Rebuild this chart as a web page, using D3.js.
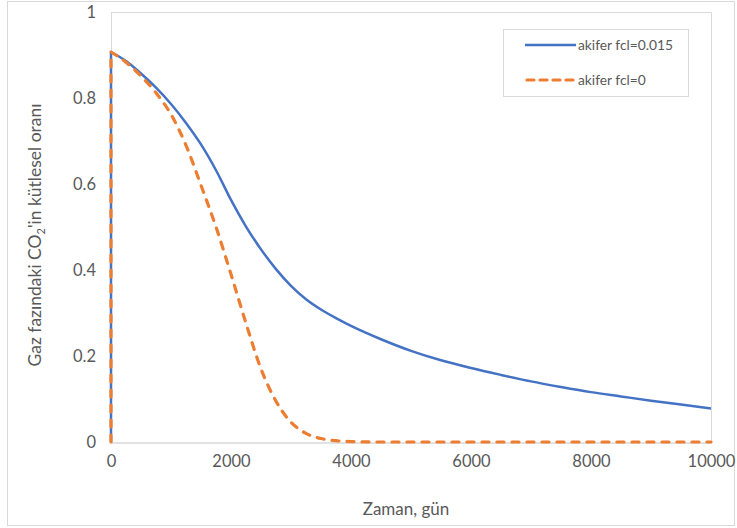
<!DOCTYPE html>
<html>
<head>
<meta charset="utf-8">
<script src="https://cdn.jsdelivr.net/npm/d3@7"></script>
<style>
  html, body { margin: 0; padding: 0; background: #fff; }
  svg { display: block; font-family: Lato, "Open Sans", sans-serif; }
</style>
</head>
<body>
<svg id="chart" width="737" height="528"></svg>
<script>
// Time (days) at which the gas-phase CO2 mass fraction was sampled
const days = [0, 250, 500, 750, 1000, 1250, 1500, 1750, 2000, 2250, 2500, 2750,
  3000, 3250, 3500, 3750, 4000, 4500, 5000, 5500, 6000, 6500, 7000, 7500,
  8000, 8500, 9000, 9500, 10000];

// Aquifer with fcl = 0.015
const fcl015 = [0.907, 0.886, 0.857, 0.824, 0.786, 0.742, 0.692, 0.632, 0.563, 0.501, 0.448, 0.402,
  0.363, 0.332, 0.308, 0.288, 0.270, 0.239, 0.212, 0.190, 0.172, 0.156, 0.141, 0.128,
  0.116, 0.106, 0.096, 0.087, 0.078];

// Aquifer with fcl = 0
const fcl0 = [0.907, 0.883, 0.851, 0.812, 0.762, 0.690, 0.597, 0.500, 0.390, 0.276, 0.170, 0.095,
  0.046, 0.020, 0.008, 0.003, 0.001, 0, 0, 0, 0, 0, 0, 0,
  0, 0, 0, 0, 0];

// Both runs start from zero gas fraction at t = 0
const startValue = 0;

const xTicks = [0, 2000, 4000, 6000, 8000, 10000];
const yTicks = [0, 0.2, 0.4, 0.6, 0.8, 1];

const seriesNames = ["akifer fcl=0.015", "akifer fcl=0"];

const svg = d3.select("#chart");
const W = 737, H = 528;
const plot = { left: 111, right: 711, top: 12, bottom: 442 };
const textColor = "#595959";

// chart area border
svg.append("rect")
  .attr("x", 7.5).attr("y", 1.5)
  .attr("width", W - 10).attr("height", H - 4)
  .attr("fill", "#fff").attr("stroke", "#d9d9d9").attr("stroke-width", 1);

const x = d3.scaleLinear().domain([0, 10000]).range([plot.left, plot.right]);
const y = d3.scaleLinear().domain([0, 1]).range([plot.bottom, plot.top]);

// plot area outline (top and right)
svg.append("path")
  .attr("d", `M${plot.left},${plot.top + 0.5}H${plot.right + 0.5}V${plot.bottom}`)
  .attr("fill", "none").attr("stroke", "#d9d9d9").attr("stroke-width", 1);

// x axis
const xAxis = svg.append("g")
  .attr("transform", `translate(0,${plot.bottom + 0.5})`)
  .call(d3.axisBottom(x).tickValues(xTicks).tickSize(0).tickPadding(13).tickFormat(d3.format("d")));
xAxis.select(".domain").attr("stroke", "#d9d9d9").attr("stroke-width", 1.5);
xAxis.selectAll("text").attr("fill", textColor).style("font-size", "16.5px").style("font-family", "Lato, sans-serif");

// y axis
const yAxis = svg.append("g")
  .attr("transform", `translate(${plot.left},0)`)
  .call(d3.axisLeft(y).tickValues(yTicks).tickSize(0).tickPadding(15)
    .tickFormat(d => d === 0 || d === 1 ? d3.format("d")(d) : d3.format(".1f")(d)));
yAxis.select(".domain").attr("stroke", "#d9d9d9").attr("stroke-width", 1);
yAxis.selectAll("text").attr("fill", textColor).style("font-size", "16.5px").style("font-family", "Lato, sans-serif");

// axis titles
svg.append("text")
  .attr("x", 406).attr("y", 515)
  .attr("text-anchor", "middle")
  .attr("fill", textColor).style("font-size", "17px")
  .text("Zaman, gün");

const yTitle = svg.append("text")
  .attr("transform", `translate(41,235) rotate(-90)`)
  .attr("text-anchor", "middle")
  .attr("fill", textColor).style("font-size", "17.5px");
yTitle.append("tspan").text("Gaz fazındaki CO");
yTitle.append("tspan").attr("dy", 4).style("font-size", "11px").text("2");
yTitle.append("tspan").attr("dy", -4).text("'in kütlesel oranı");

// path: vertical rise at t = 0, then a smooth curve through the samples
const curve = d3.line().x(d => x(d[0])).y(d => y(d[1])).curve(d3.curveMonotoneX);
function seriesPath(values) {
  const pts = days.map((t, i) => [t, values[i]]);
  const rise = `M${x(0)},${y(startValue)}`;
  return rise + "L" + curve(pts).slice(1);
}

svg.append("path")
  .attr("d", seriesPath(fcl015))
  .attr("fill", "none")
  .attr("stroke", "#4472c4")
  .attr("stroke-width", 2.5)
  .attr("stroke-linejoin", "round");

svg.append("path")
  .attr("d", seriesPath(fcl0))
  .attr("fill", "none")
  .attr("stroke", "#ed7d31")
  .attr("stroke-width", 3.2)
  .attr("stroke-dasharray", "7,8")
  .attr("stroke-linecap", "round")
  .attr("stroke-linejoin", "round");

// legend
const lg = svg.append("g");
lg.append("rect")
  .attr("x", 503.5).attr("y", 29.5).attr("width", 185).attr("height", 67)
  .attr("fill", "#fff").attr("stroke", "#d9d9d9").attr("stroke-width", 1);

const legendItems = [
  { name: seriesNames[0], color: "#4472c4", dash: null, w: 2.5, cy: 45 },
  { name: seriesNames[1], color: "#ed7d31", dash: "7,6", w: 3.2, cy: 80 }
];
legendItems.forEach(it => {
  const l = lg.append("line")
    .attr("x1", it.dash ? 527 : 525).attr("x2", it.dash ? 574 : 576)
    .attr("y1", it.cy).attr("y2", it.cy)
    .attr("stroke", it.color).attr("stroke-width", it.w);
  if (it.dash) l.attr("stroke-dasharray", it.dash).attr("stroke-linecap", "round");
  lg.append("text")
    .attr("x", 578).attr("y", it.cy + 5)
    .attr("fill", textColor).style("font-size", "13.8px")
    .text(it.name);
});
</script>
</body>
</html>
